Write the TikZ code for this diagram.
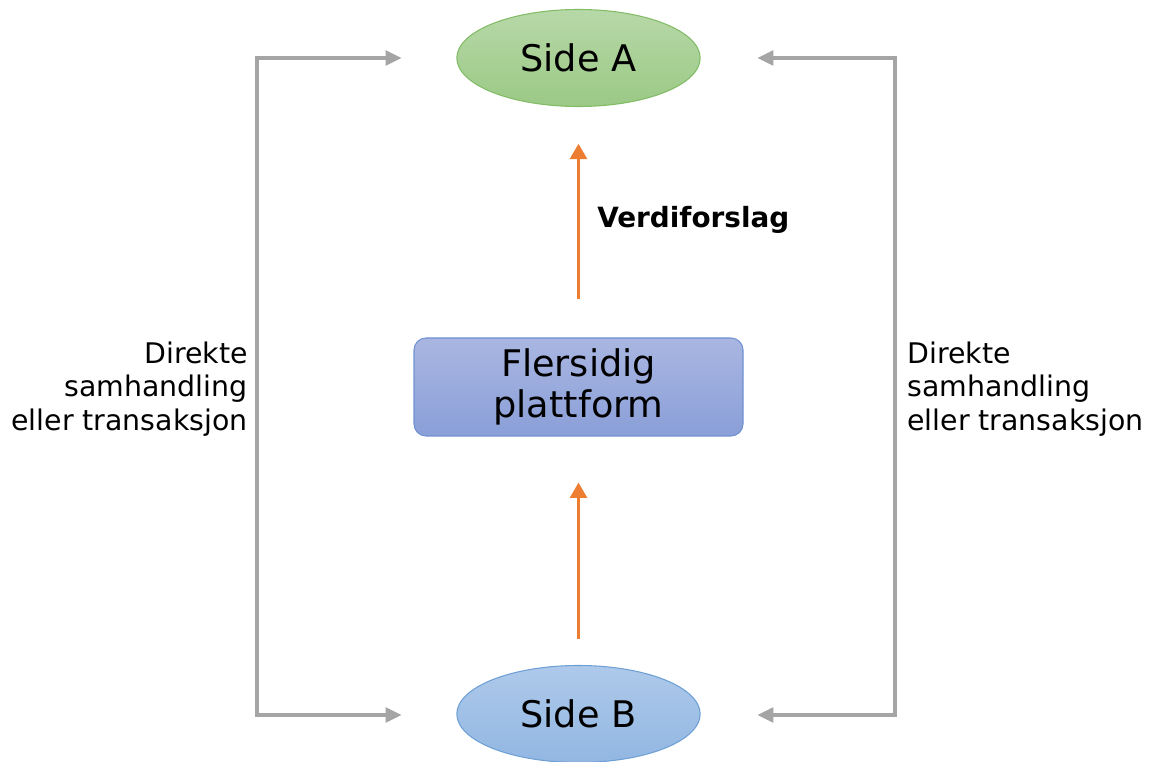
\documentclass[tikz,border=0pt]{standalone}
\usepackage{fontspec}
\setmainfont{DejaVu Sans}
\usetikzlibrary{shapes.geometric,arrows.meta}

\definecolor{sideAtop}{RGB}{183,216,168}
\definecolor{sideAbot}{RGB}{155,201,133}
\definecolor{sideAline}{RGB}{130,188,102}
\definecolor{sideBtop}{RGB}{174,201,234}
\definecolor{sideBbot}{RGB}{146,183,226}
\definecolor{sideBline}{RGB}{110,160,214}
\definecolor{platTop}{RGB}{169,182,225}
\definecolor{platBot}{RGB}{138,159,216}
\definecolor{platLine}{RGB}{112,145,210}
\definecolor{valueArrow}{RGB}{237,125,49}
\definecolor{linkGray}{RGB}{165,165,165}

\tikzset{
  side/.style={ellipse, minimum width=182.5pt, minimum height=72.75pt,
    inner sep=0pt, shading=axis, line width=0.8pt,
    font=\fontsize{27.5}{32}\selectfont},
  sideA/.style={side, top color=sideAtop, bottom color=sideAbot, draw=sideAline},
  sideB/.style={side, top color=sideBtop, bottom color=sideBbot, draw=sideBline},
  platform/.style={rectangle, rounded corners=9pt, minimum width=246.75pt,
    minimum height=73.5pt, top color=platTop, bottom color=platBot,
    draw=platLine, line width=0.8pt, align=center,
    font=\fontsize{27.5}{31}\selectfont},
  valuearrow/.style={draw=valueArrow, line width=2.5pt,
    -{Triangle[length=11.5pt,width=12.5pt]}},
  link/.style={draw=linkGray, line width=2.4pt,
    {Triangle[length=12pt,width=11pt]}-{Triangle[length=12pt,width=11pt]}},
  sidelabel/.style={font=\fontsize{21.3}{25}\selectfont, inner sep=0pt},
  valuelabel/.style={font=\fontsize{20.9}{25}\selectfont\bfseries, inner sep=0pt}
}

\begin{document}
\begin{tikzpicture}[x=0.75pt, y=-0.75pt]
  \useasboundingbox (0,0) rectangle (1153,762);

  % participants and the platform between them
  \node[sideA] (A) at (578.5,58) {Side A};
  \node[sideB] (B) at (578.5,714) {Side B};
  \node[platform] (P) at (578.5,387) {Flersidig\\plattform};

  % value proposition arrows
  \draw[valuearrow, shorten <=28.5pt, shorten >=27.5pt] (P.north) -- (A.south);
  \draw[valuearrow, shorten <=19.5pt, shorten >=34.5pt] (B.north) -- (P.south);
  \node[valuelabel, anchor=west] (V) at (597,220) {Verdiforslag};

  % direct interaction, bypassing the platform
  \coordinate (lt) at (257,58);
  \coordinate (lb) at (257,715);
  \coordinate (rt) at (895,58);
  \coordinate (rb) at (895,715);
  \draw[link, shorten <=41pt, shorten >=41pt]
    (A.west) -- (lt) -- (lb) -- (B.west |- lb);
  \draw[link, shorten <=42.5pt, shorten >=42.5pt]
    (A.east) -- (rt) -- (rb) -- (B.east |- rb);

  \node[sidelabel, anchor=east, align=right] (L) at (248,389)
    {Direkte\\samhandling\\eller transaksjon};
  \node[sidelabel, anchor=west, align=left] (R) at (907,389)
    {Direkte\\samhandling\\eller transaksjon};
\end{tikzpicture}
\end{document}
